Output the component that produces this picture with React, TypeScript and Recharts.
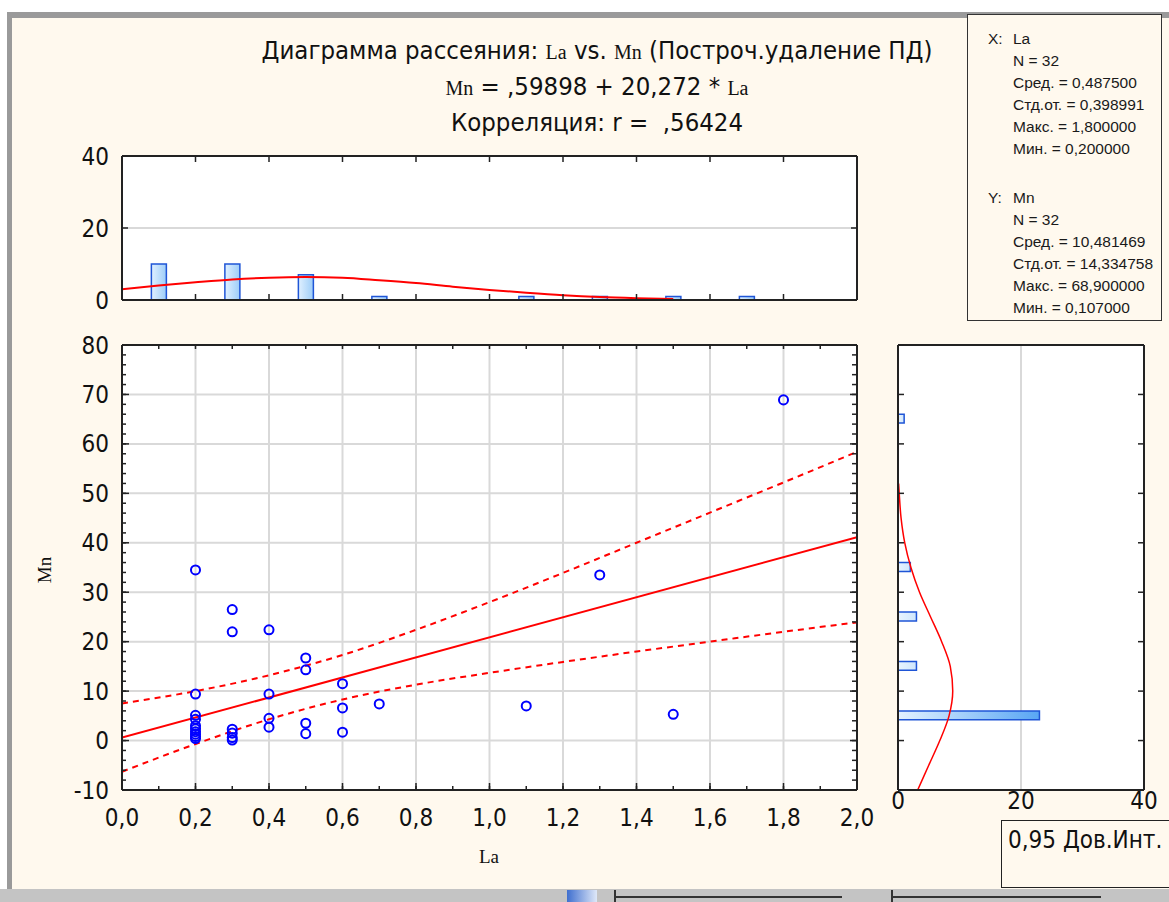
import React from 'react';
import { ComposedChart, Scatter, Line, Bar, Cell, XAxis, YAxis, CartesianGrid } from 'recharts';

// scatter points: La (x) vs Mn (y)
const la = [
  0.2, 0.2, 0.2, 0.2, 0.2, 0.2, 0.2, 0.2, 0.2, 0.2,
  0.3, 0.3, 0.3, 0.3, 0.3, 0.3,
  0.4, 0.4, 0.4, 0.4,
  0.5, 0.5, 0.5, 0.5,
  0.6, 0.6, 0.6,
  0.7, 1.1, 1.3, 1.5, 1.8,
];
const mn = [
  34.5, 9.4, 5.1, 4.3, 3.0, 2.4, 1.8, 1.3, 0.8, 0.4,
  26.5, 22.0, 2.3, 1.5, 0.6, 0.107,
  22.4, 9.4, 4.5, 2.7,
  16.7, 14.3, 3.5, 1.4,
  11.5, 6.6, 1.7,
  7.4, 7.0, 33.5, 5.3, 68.9,
];

// regression line and 0.95 confidence band
const fitLa = [0, 2.0];
const fitMn = [0.599, 41.14];
const bandLa = [0, 0.2, 0.4, 0.6, 0.8, 1.0, 1.2, 1.4, 1.6, 1.8, 2.0];
const bandUpper = [7.5, 10.0, 13.2, 17.3, 22.4, 28.0, 33.9, 40.0, 46.1, 52.2, 58.4];
const bandLower = [-6.3, -0.7, 4.3, 8.3, 11.3, 13.7, 15.9, 18.0, 20.0, 22.0, 23.9];

// La histogram (top)
const laBinCenters = [0.1, 0.3, 0.5, 0.7, 1.1, 1.3, 1.5, 1.7];
const laBinCounts = [10, 10, 7, 1, 1, 1, 1, 1];
const laCurveX = [0, 0.1, 0.2, 0.3, 0.4, 0.5, 0.6, 0.7, 0.8, 0.9, 1.0, 1.1, 1.2, 1.3, 1.4, 1.5];
const laCurveY = [3.0, 4.0, 4.9, 5.7, 6.2, 6.4, 6.2, 5.5, 4.7, 3.7, 2.8, 2.0, 1.3, 0.8, 0.5, 0.3];

// Mn histogram (right)
const mnBinCenters = [5, 15, 25, 35, 65];
const mnBinCounts = [23, 3, 3, 2, 1];
const mnCurveY = [-10, -5, 0, 5, 10, 15, 20, 25, 30, 35, 40, 45, 50, 52];
const mnCurveCount = [3.2, 5.0, 6.8, 8.3, 8.9, 8.5, 7.1, 5.3, 3.5, 2.1, 1.1, 0.5, 0.2, 0.1];

// ticks
const laTicks = [0, 0.2, 0.4, 0.6, 0.8, 1.0, 1.2, 1.4, 1.6, 1.8, 2.0];
const laMinorTicks = [0, 0.1, 0.2, 0.3, 0.4, 0.5, 0.6, 0.7, 0.8, 0.9, 1.0, 1.1, 1.2, 1.3, 1.4, 1.5, 1.6, 1.7, 1.8, 1.9, 2.0];
const mnTicks = [-10, 0, 10, 20, 30, 40, 50, 60, 70, 80];
const mnMinorTicks = [
  -10, -8, -6, -4, -2, 0, 2, 4, 6, 8, 10, 12, 14, 16, 18, 20, 22, 24, 26, 28, 30,
  32, 34, 36, 38, 40, 42, 44, 46, 48, 50, 52, 54, 56, 58, 60, 62, 64, 66, 68, 70,
  72, 74, 76, 78, 80,
];
const countTicks = [0, 20, 40];

const NARROW = '"Liberation Sans Narrow", "Arial Narrow", "DejaVu Sans Condensed", sans-serif';
const SANS = '"Liberation Sans", Arial, sans-serif';
const SERIF = '"Liberation Serif", "Times New Roman", serif';
const BG = '#fff9ee';
const RED = '#ff0000';
const AXIS = '#222';
const GRID = '#d9d9d9';

const tickFont = { fontFamily: NARROW, fontSize: 24, fill: '#111' };
const NoTick = () => <g />;
const comma = (v: number) => v.toFixed(1).replace('.', ',');
const frameLine = { stroke: AXIS, strokeWidth: 2 };
const tickLine = { stroke: AXIS, strokeWidth: 1.5 };

const points = la.map((x, i) => ({ x, y: mn[i] }));
const fitRows = fitLa.map((x, i) => ({ x, fit: fitMn[i] }));
const bandRows = bandLa.map((x, i) => ({ x, upper: bandUpper[i], lower: bandLower[i] }));

function mergeRows(key: string, sets: [number[], number[], string][]) {
  const m = new Map<string, any>();
  sets.forEach(([ks, vs, name]) => {
    ks.forEach((k, i) => {
      const id = k.toFixed(2);
      const row = m.get(id) ?? { [key]: k };
      row[name] = vs[i];
      m.set(id, row);
    });
  });
  return [...m.values()].sort((a, b) => a[key] - b[key]);
}

const topRows = mergeRows('x', [[laBinCenters, laBinCounts, 'count'], [laCurveX, laCurveY, 'curve']]);
const sideRows = mergeRows('y', [[mnBinCenters, mnBinCounts, 'count'], [mnCurveY, mnCurveCount, 'curve']]);

function MainChart() {
  return (
    <ComposedChart width={880} height={520} margin={{ top: 15, right: 23, bottom: 59, left: 121 }}>
      <CartesianGrid xAxisId="x" yAxisId="y" stroke={GRID} strokeWidth={2} fill="#fff" />
      <XAxis xAxisId="x" type="number" dataKey="x" domain={[0, 2]} ticks={laTicks} interval={0}
        allowDataOverflow height={1} tickSize={-7} tickMargin={26} tickFormatter={comma}
        tick={tickFont} axisLine={frameLine} tickLine={tickLine} />
      <XAxis xAxisId="xminor" mirror type="number" dataKey="x" domain={[0, 2]} ticks={laMinorTicks}
        interval={0} allowDataOverflow height={1} tickSize={4} tick={NoTick} axisLine={false} tickLine={tickLine} />
      <XAxis xAxisId="xtop" mirror orientation="top" type="number" dataKey="x" domain={[0, 2]}
        ticks={laMinorTicks} interval={0} allowDataOverflow height={1} tickSize={4} tick={NoTick}
        axisLine={frameLine} tickLine={tickLine} />
      <YAxis yAxisId="y" type="number" dataKey="y" domain={[-10, 80]} ticks={mnTicks} interval={0}
        allowDataOverflow width={1} tickSize={-7} tickMargin={20}
        tick={tickFont} axisLine={frameLine} tickLine={tickLine} />
      <YAxis yAxisId="yminor" mirror type="number" dataKey="y" domain={[-10, 80]} ticks={mnMinorTicks}
        interval={0} allowDataOverflow width={1} tickSize={4} tick={NoTick} axisLine={false} tickLine={tickLine} />
      <YAxis yAxisId="yright" mirror orientation="right" type="number" dataKey="y" domain={[-10, 80]}
        ticks={mnTicks} interval={0} allowDataOverflow width={1} tickSize={7} tick={NoTick}
        axisLine={frameLine} tickLine={tickLine} />
      <YAxis yAxisId="yrightminor" mirror orientation="right" type="number" dataKey="y" domain={[-10, 80]}
        ticks={mnMinorTicks} interval={0} allowDataOverflow width={1} tickSize={4} tick={NoTick}
        axisLine={false} tickLine={tickLine} />
      <Line xAxisId="x" yAxisId="y" data={bandRows} dataKey="upper" type="monotone" stroke={RED}
        strokeWidth={2} strokeDasharray="6 5" dot={false} isAnimationActive={false} />
      <Line xAxisId="x" yAxisId="y" data={bandRows} dataKey="lower" type="monotone" stroke={RED}
        strokeWidth={2} strokeDasharray="6 5" dot={false} isAnimationActive={false} />
      <Line xAxisId="x" yAxisId="y" data={fitRows} dataKey="fit" type="linear" stroke={RED}
        strokeWidth={2} dot={false} isAnimationActive={false} />
      <Scatter xAxisId="x" yAxisId="y" data={points} dataKey="y" shape="circle" fill="none"
        stroke="#0000ff" strokeWidth={2} isAnimationActive={false} />
    </ComposedChart>
  );
}

function TopHistogram() {
  return (
    <ComposedChart width={880} height={175} data={topRows} margin={{ top: 16, right: 23, bottom: 15, left: 121 }}>
      <defs>
        <linearGradient id="topBarFill" x1="0" y1="0" x2="1" y2="0">
          <stop offset="0%" stopColor="#e0f0ff" />
          <stop offset="100%" stopColor="#9dcdf8" />
        </linearGradient>
      </defs>
      <CartesianGrid vertical={false} stroke={GRID} strokeWidth={2} fill="#fff" />
      <XAxis type="number" dataKey="x" mirror domain={[0, 2]} ticks={laTicks} interval={0} allowDataOverflow
        height={1} tickSize={6} tick={NoTick} axisLine={frameLine} tickLine={tickLine} />
      <XAxis xAxisId="top" mirror orientation="top" type="number" dataKey="x" domain={[0, 2]} ticks={laTicks}
        interval={0} allowDataOverflow height={1} tickSize={6} tick={NoTick} axisLine={frameLine}
        tickLine={tickLine} />
      <YAxis type="number" domain={[0, 40]} ticks={countTicks} interval={0} allowDataOverflow
        width={1} tickSize={-6} tickMargin={19} tick={tickFont} axisLine={frameLine} tickLine={tickLine} />
      <YAxis yAxisId="right" mirror orientation="right" type="number" domain={[0, 40]} ticks={countTicks}
        interval={0} allowDataOverflow width={1} tickSize={6} tick={NoTick} axisLine={frameLine}
        tickLine={tickLine} />
      <Bar dataKey="count" barSize={15} fill="url(#topBarFill)" stroke="#1f55d6" strokeWidth={1.5}
        isAnimationActive={false} />
      <Line dataKey="curve" type="monotone" stroke={RED} strokeWidth={2} dot={false} connectNulls
        isAnimationActive={false} />
    </ComposedChart>
  );
}

function SideHistogram() {
  return (
    <ComposedChart layout="vertical" width={289} height={520} data={sideRows}
      margin={{ top: 15, right: 25, bottom: 59, left: 18 }}>
      <defs>
        <linearGradient id="sideBarStrong" x1="0" y1="0" x2="1" y2="0">
          <stop offset="0%" stopColor="#e4f2ff" />
          <stop offset="100%" stopColor="#58a6f4" />
        </linearGradient>
        <linearGradient id="sideBarPale" x1="0" y1="0" x2="1" y2="0">
          <stop offset="0%" stopColor="#e8f4ff" />
          <stop offset="100%" stopColor="#cfe6fc" />
        </linearGradient>
      </defs>
      <CartesianGrid horizontal={false} stroke={GRID} strokeWidth={2} fill="#fff" />
      <XAxis type="number" domain={[0, 40]} ticks={countTicks} interval={0} allowDataOverflow
        height={1} tickSize={0} tickMargin={2} tick={tickFont} axisLine={frameLine} tickLine={false} />
      <XAxis xAxisId="top" mirror orientation="top" type="number" domain={[0, 40]} ticks={countTicks}
        interval={0} allowDataOverflow height={1} tick={NoTick} axisLine={frameLine} tickLine={false} />
      <YAxis type="number" mirror dataKey="y" domain={[-10, 80]} reversed ticks={mnTicks} interval={0}
        allowDataOverflow width={1} tickSize={6} tick={NoTick} axisLine={frameLine} tickLine={tickLine} />
      <YAxis yAxisId="right" mirror orientation="right" type="number" dataKey="y" domain={[-10, 80]} reversed
        ticks={mnTicks} interval={0} allowDataOverflow width={1} tickSize={6} tick={NoTick}
        axisLine={frameLine} tickLine={tickLine} />
      <Bar dataKey="count" barSize={11} stroke="#1f55d6" strokeWidth={1.5} isAnimationActive={false}>
        {sideRows.map((r, i) => (
          <Cell key={i} fill={r.count > 10 ? 'url(#sideBarStrong)' : 'url(#sideBarPale)'} />
        ))}
      </Bar>
      <Line dataKey="curve" type="monotone" stroke={RED} strokeWidth={1.5} dot={false} connectNulls
        isAnimationActive={false} />
    </ComposedChart>
  );
}

const statLine: React.CSSProperties = { height: 22, lineHeight: '22px', whiteSpace: 'nowrap' };

export default function App() {
  return (
    <div style={{ position: 'relative', width: 1169, height: 902, background: '#fff', overflow: 'hidden' }}>
      <style>{'body{margin:0}'}</style>
      {/* window frame */}
      <div style={{ position: 'absolute', left: 7, top: 12, right: 0, bottom: 0, background: BG,
        borderTop: '6px solid #9a9a9a', borderLeft: '5px solid #9a9a9a' }} />

      <div style={{ position: 'absolute', left: 0, top: 140 }}><TopHistogram /></div>
      <div style={{ position: 'absolute', left: 0, top: 330 }}><MainChart /></div>
      <div style={{ position: 'absolute', left: 880, top: 330 }}><SideHistogram /></div>

      {/* titles */}
      <div style={{ position: 'absolute', left: 97, top: 33, width: 1000, textAlign: 'center',
        fontFamily: NARROW, fontSize: 25.5, lineHeight: '34px', color: '#111' }}>
        <div>Диаграмма рассеяния: <span style={{ fontFamily: SERIF, fontSize: 20 }}>La</span> vs. <span
          style={{ fontFamily: SERIF, fontSize: 20 }}>Mn</span> (Построч.удаление ПД)</div>
        <div><span style={{ fontFamily: SERIF, fontSize: 20 }}>Mn</span> = ,59898 + 20,272 * <span
          style={{ fontFamily: SERIF, fontSize: 20 }}>La</span></div>
        <div>Корреляция: r = &nbsp;,56424</div>
      </div>

      {/* axis titles */}
      <div style={{ position: 'absolute', left: 45, top: 570, transform: 'translate(-50%, -50%) rotate(-90deg)',
        fontFamily: SERIF, fontSize: 19, color: '#111' }}>Mn</div>
      <div style={{ position: 'absolute', left: 489, top: 857, transform: 'translate(-50%, -50%)',
        fontFamily: SERIF, fontSize: 19, color: '#111' }}>La</div>

      {/* descriptive statistics */}
      <div style={{ position: 'absolute', left: 967, top: 14, width: 195, height: 307, border: '1.5px solid #333',
        background: BG, overflow: 'hidden', fontFamily: SANS, fontSize: 15.5, color: '#1a1a1a', paddingTop: 13,
        boxSizing: 'border-box' }}>
        <div style={{ ...statLine, paddingLeft: 20 }}><span style={{ display: 'inline-block', width: 25 }}>X:</span>La</div>
        <div style={{ ...statLine, paddingLeft: 45 }}>N = 32</div>
        <div style={{ ...statLine, paddingLeft: 45 }}>Сред. = 0,487500</div>
        <div style={{ ...statLine, paddingLeft: 45 }}>Стд.от. = 0,398991</div>
        <div style={{ ...statLine, paddingLeft: 45 }}>Макс. = 1,800000</div>
        <div style={{ ...statLine, paddingLeft: 45 }}>Мин. = 0,200000</div>
        <div style={{ height: 27 }} />
        <div style={{ ...statLine, paddingLeft: 20 }}><span style={{ display: 'inline-block', width: 25 }}>Y:</span>Mn</div>
        <div style={{ ...statLine, paddingLeft: 45 }}>N = 32</div>
        <div style={{ ...statLine, paddingLeft: 45 }}>Сред. = 10,481469</div>
        <div style={{ ...statLine, paddingLeft: 45 }}>Стд.от. = 14,334758</div>
        <div style={{ ...statLine, paddingLeft: 45 }}>Макс. = 68,900000</div>
        <div style={{ ...statLine, paddingLeft: 45 }}>Мин. = 0,107000</div>
      </div>

      {/* legend */}
      <div style={{ position: 'absolute', left: 1001, top: 820, width: 190, height: 68, border: '1.5px solid #222',
        background: BG, boxSizing: 'border-box', fontFamily: NARROW, fontSize: 24, color: '#111',
        paddingLeft: 6, lineHeight: '38px' }}>0,95 Дов.Инт.</div>

      {/* status bar */}
      <div style={{ position: 'absolute', left: 0, top: 889, width: 1169, height: 13, background: '#c4c4c4' }}>
        <div style={{ position: 'absolute', left: 567, top: 1, width: 30, height: 12,
          background: 'linear-gradient(90deg, #3f6fcf, #dfe8f8)' }} />
        <div style={{ position: 'absolute', left: 614, top: 7, width: 228, height: 2, background: '#333' }} />
        <div style={{ position: 'absolute', left: 614, top: 1, width: 2, height: 12, background: '#333' }} />
        <div style={{ position: 'absolute', left: 891, top: 7, width: 210, height: 2, background: '#333' }} />
        <div style={{ position: 'absolute', left: 891, top: 1, width: 2, height: 12, background: '#333' }} />
      </div>
    </div>
  );
}
